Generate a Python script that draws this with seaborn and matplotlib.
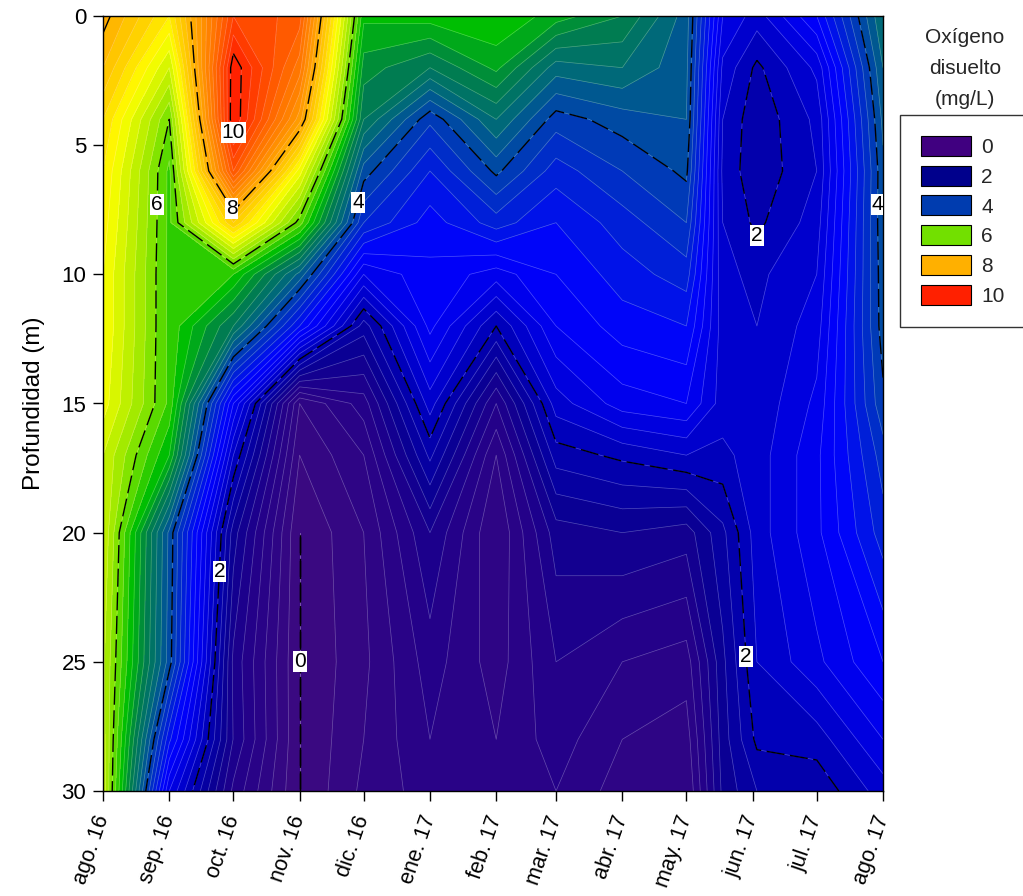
import numpy as np
import pandas as pd
import matplotlib
matplotlib.use("Agg")
import matplotlib.pyplot as plt
import matplotlib.dates as mdates
from matplotlib.colors import LinearSegmentedColormap
from matplotlib.patches import Patch
import seaborn as sns

# ---------------- data ----------------
sample_dates = ["2016-08-01", "2016-09-01", "2016-10-01", "2016-11-01", "2016-12-01",
                "2017-01-01", "2017-02-01", "2017-03-01", "2017-04-01", "2017-05-01",
                "2017-05-18", "2017-06-03", "2017-07-01", "2017-08-01"]
depths = [0, 2, 4, 6, 8, 10, 12, 15, 17, 20, 25, 28, 30]

# dissolved oxygen (mg/L) per sampling date, top -> bottom
do_ago16 = [8.1, 7.8, 7.4, 7.2, 7.1, 7.0, 7.0, 6.9, 6.6, 6.6, 6.45, 6.5, 6.55]
do_sep16 = [7.2, 6.6, 6.0, 5.75, 5.75, 5.75, 5.75, 5.75, 5.4, 4.15, 4.1, 3.25, 2.6]
do_oct16 = [9.6, 10.15, 10.2, 9.4, 7.6, 5.6, 4.8, 2.8, 2.2, 1.5, 1.15, 1.19, 0.95]
do_nov16 = [9.3, 8.9, 8.3, 6.9, 5.9, 4.33, 3.2, 0.4, 0.2, 0.0, 0.0, 0.0, 0.0]
do_dic16 = [5.45, 5.1, 4.8, 4.1, 3.6, 2.6, 1.7, 0.9, 0.6, 0.4, 0.35, 0.4, 0.45]
do_ene17 = [5.5, 4.8, 3.85, 3.4, 3.1, 2.95, 2.86, 2.3, 1.85, 1.2, 0.9, 0.8, 0.7]
do_feb17 = [5.6, 5.25, 4.6, 4.05, 3.5, 2.7, 2.0, 1.0, 0.6, 0.4, 0.5, 0.6, 0.7]
do_mar17 = [5.3, 4.5, 3.9, 3.5, 3.2, 3.0, 2.8, 2.3, 1.9, 1.3, 1.0, 0.9, 0.8]
do_abr17 = [5.0, 4.6, 4.1, 3.8, 3.5, 3.3, 3.1, 2.7, 2.05, 1.4, 0.8, 0.6, 0.5]
do_may17 = [4.3, 4.25, 4.2, 4.05, 3.8, 3.5, 3.2, 2.8, 2.2, 1.3, 0.7, 0.5, 0.4]
do_may17b = [2.6, 2.35, 2.2, 2.15, 2.2, 2.25, 2.3, 2.3, 2.15, 1.75, 1.55, 1.5, 1.45]
do_jun17 = [2.3, 1.95, 1.85, 1.85, 1.95, 2.15, 2.2, 2.25, 2.3, 2.3, 2.2, 2.05, 1.8]
do_jul17 = [3.0, 2.45, 2.25, 2.2, 2.3, 2.4, 2.5, 2.65, 2.75, 2.75, 2.55, 2.1, 1.85]
do_ago17 = [4.6, 4.4, 4.25, 4.15, 4.15, 4.12, 4.1, 3.95, 3.7, 3.5, 3.0, 2.6, 2.3]

tick_dates = ["2016-08-01", "2016-09-01", "2016-10-01", "2016-11-01", "2016-12-01",
              "2017-01-01", "2017-02-01", "2017-03-01", "2017-04-01", "2017-05-01",
              "2017-06-01", "2017-07-01", "2017-08-01"]
tick_labels = ["ago. 16", "sep. 16", "oct. 16", "nov. 16", "dic. 16", "ene. 17",
               "feb. 17", "mar. 17", "abr. 17", "may. 17", "jun. 17", "jul. 17", "ago. 17"]
major_levels = [0, 2, 4, 6, 8, 10]
legend_colors = ["#400080", "#00008c", "#003caf", "#72e000", "#ffb000", "#ff2000"]
legend_title = "Oxígeno\ndisuelto\n(mg/L)"

# label anchor points (date, depth) for the labelled isolines
label_points = [("2016-10-01", 5.3), ("2016-10-01", 7.4), ("2016-08-25", 7.3),
                ("2016-11-27", 7.2), ("2016-09-24", 21.5), ("2016-11-01", 25.0),
                ("2017-06-03", 8.6), ("2017-05-31", 24.8), ("2017-07-29", 7.3)]

# ---------------- style ----------------
sns.set_theme(style="ticks")
plt.rcParams["font.family"] = ["Liberation Sans", "DejaVu Sans"]

anchors = [(0.0, "#3c0a80"), (1.0, "#20008a"), (1.5, "#0a0094"), (2.0, "#0000b4"),
           (2.5, "#0000e0"), (3.0, "#0000ff"), (4.0, "#0040b0"), (4.5, "#006a78"),
           (5.0, "#008048"), (5.5, "#00c000"), (6.0, "#70e000"), (6.5, "#c0f000"),
           (7.0, "#ffff00"), (7.5, "#ffd400"), (8.0, "#ffb000"), (9.0, "#ff7000"),
           (10.0, "#ff2800"), (10.6, "#ff0000")]
vmax = 10.6
cmap = LinearSegmentedColormap.from_list("do", [(v / vmax, c) for v, c in anchors])

Z = np.array([do_ago16, do_sep16, do_oct16, do_nov16, do_dic16, do_ene17, do_feb17,
              do_mar17, do_abr17, do_may17, do_may17b, do_jun17, do_jul17, do_ago17]).T
X = mdates.date2num(pd.to_datetime(sample_dates))
Y = np.array(depths, dtype=float)

fig = plt.figure(figsize=(10.23, 8.96), dpi=100)
ax = fig.add_axes([103 / 1023, 1 - 791 / 896, 780 / 1023, 775 / 896])

fine_levels = np.round(np.arange(0, 10.61, 0.2), 2)
ax.contourf(X, Y, Z, levels=fine_levels, cmap=cmap, vmin=0, vmax=vmax)
ax.contour(X, Y, Z, levels=fine_levels, colors="white", linewidths=0.5, alpha=0.3)
cs = ax.contour(X, Y, Z, levels=major_levels, colors="black", linewidths=1.0,
                linestyles=[(0, (13, 4))])
manual = [(mdates.date2num(pd.Timestamp(d)), z) for d, z in label_points]
labels = ax.clabel(cs, fmt="%d", inline=False, manual=manual, fontsize=15, colors="black")
for t in labels:
    t.set_rotation(0)
    t.set_bbox(dict(facecolor="white", edgecolor="none", pad=0.8))

ax.set_xlim(X[0], X[-1])
ax.set_ylim(30, 0)
ax.set_yticks([0, 5, 10, 15, 20, 25, 30])
tick_pos = mdates.date2num(pd.to_datetime(tick_dates))
ax.set_xticks(tick_pos)
ax.set_xticklabels(tick_labels, rotation=71, ha="right", va="center",
                   rotation_mode="anchor")
ax.tick_params(axis="both", direction="out", length=7, width=1,
               color="black", labelcolor="black")
ax.tick_params(axis="y", labelsize=16, pad=5)
ax.tick_params(axis="x", labelsize=15.5, pad=11)
ax.set_ylabel("Profundidad (m)", fontsize=17.5, color="black", labelpad=12)
for s in ax.spines.values():
    s.set_visible(True)
    s.set_color("black")
    s.set_linewidth(1.0)

# legend
handles = [Patch(facecolor=c, edgecolor="black", linewidth=0.8) for c in legend_colors]
leg = fig.legend(handles, [str(v) for v in major_levels], loc="upper left",
                 bbox_to_anchor=(900 / 1023, 1 - 115 / 896), frameon=True,
                 fancybox=False, edgecolor="black", fontsize=15, handlelength=2.4,
                 handleheight=1.1, labelspacing=0.42, handletextpad=0.5,
                 borderpad=1.0, borderaxespad=0)
leg.get_frame().set_linewidth(1.0)
fig.text(965 / 1023, 1 - 28 / 896, legend_title, ha="center", va="top", fontsize=15,
         linespacing=1.8)

fig.savefig("out.png", dpi=100)
